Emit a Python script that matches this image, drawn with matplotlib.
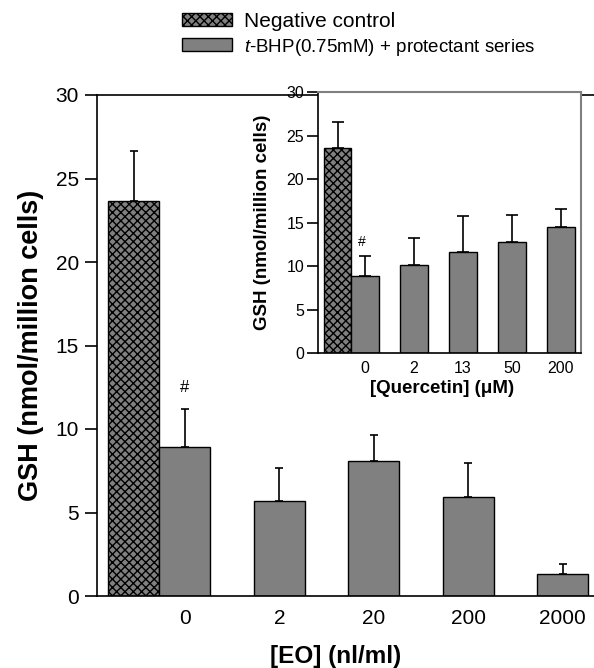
import numpy as np
import matplotlib
matplotlib.use("Agg")
import matplotlib.pyplot as plt
from matplotlib.patches import Patch

plt.rcParams['font.family'] = ['Liberation Sans', 'DejaVu Sans']
plt.rcParams['mathtext.fontset'] = 'custom'
plt.rcParams['mathtext.it'] = 'Liberation Sans:italic'
plt.rcParams['mathtext.rm'] = 'Liberation Sans'
plt.rcParams['hatch.linewidth'] = 1.0

# Datos - grafico principal (EO)
eo_labels = ['0', '2', '20', '200', '2000']
eo_vals = [8.92, 5.69, 8.08, 5.93, 1.32]
eo_err = [2.3, 2.0, 1.55, 2.05, 0.6]
ctrl_val = 23.65
ctrl_err = 3.0

# Datos - inserto (quercetina)
q_labels = ['0', '2', '13', '50', '200']
q_vals = [8.85, 10.1, 11.6, 12.75, 14.5]
q_err = [2.3, 3.15, 4.15, 3.1, 2.05]
q_ctrl_val = 23.6
q_ctrl_err = 3.0

gray = '#808080'
hatch = 'xxxx'

fig = plt.figure(figsize=(5.94, 6.68), dpi=100)
ax = fig.add_axes([97/594, 1 - 596/668, 497/594, 501/668])

# Grafico principal
w = 0.54
x = np.arange(len(eo_vals))
ax.bar(-w, ctrl_val, w, color=gray, edgecolor='black', hatch=hatch, linewidth=1)
ax.bar(x, eo_vals, w, color=gray, edgecolor='black', linewidth=1)
ax.errorbar(-w, ctrl_val, yerr=[[0], [ctrl_err]], fmt='none', ecolor='black',
            elinewidth=1.2, capsize=3, capthick=1.2, zorder=0.5)
ax.errorbar(x, eo_vals, yerr=[np.zeros(len(eo_err)), eo_err], fmt='none', ecolor='black',
            elinewidth=1.2, capsize=3, capthick=1.2, zorder=0.5)
ax.text(x[0], eo_vals[0] + eo_err[0] + 0.8, '#', ha='center', va='bottom', fontsize=12)

ax.set_xlim(-0.93, 4.33)
ax.set_ylim(0, 30)
ax.set_yticks(range(0, 31, 5))
ax.set_xticks(x)
ax.set_xticklabels(eo_labels)
ax.tick_params(axis='y', direction='out', length=9, width=1.2, labelsize=15, pad=4)
ax.tick_params(axis='x', length=0, labelsize=15, pad=9)
ax.spines['right'].set_visible(False)
for s in ['left', 'bottom', 'top']:
    ax.spines[s].set_linewidth(1.2)
ax.set_xlabel('[EO] (nl/ml)', fontsize=17.5, fontweight='bold')
ax.set_ylabel('GSH (nmol/million cells)', fontsize=19.5, fontweight='bold')
ax.xaxis.set_label_coords(0.48, -0.098)
ax.yaxis.set_label_coords(-0.107, 0.5)

# Inserto
axi = fig.add_axes([318/594, 1 - 353/668, 263/594, 261/668])
axi.set_facecolor('white')
axi.set_zorder(3)
wi = 0.56
xi = np.arange(len(q_vals))
axi.bar(-wi, q_ctrl_val, wi, color=gray, edgecolor='black', hatch=hatch, linewidth=1)
axi.bar(xi, q_vals, wi, color=gray, edgecolor='black', linewidth=1)
axi.errorbar(-wi, q_ctrl_val, yerr=[[0], [q_ctrl_err]], fmt='none', ecolor='black',
             elinewidth=1.2, capsize=4.5, capthick=1.2, zorder=0.5)
axi.errorbar(xi, q_vals, yerr=[np.zeros(len(q_err)), q_err], fmt='none', ecolor='black',
             elinewidth=1.2, capsize=4.5, capthick=1.2, zorder=0.5)
axi.text(xi[0] - 0.06, q_vals[0] + q_err[0] + 0.8, '#', ha='center', va='bottom', fontsize=10)

axi.set_xlim(-0.96, 4.41)
axi.set_ylim(0, 30)
axi.set_yticks(range(0, 31, 5))
axi.set_xticks(xi)
axi.set_xticklabels(q_labels)
axi.tick_params(axis='y', direction='out', length=8, width=1.2, labelsize=11.5, pad=2)
axi.tick_params(axis='x', length=0, labelsize=11.5, pad=6)
axi.spines['left'].set_linewidth(1.2)
axi.spines['bottom'].set_linewidth(1.2)
axi.spines['top'].set_color(gray)
axi.spines['right'].set_color(gray)
axi.spines['top'].set_linewidth(1.5)
axi.spines['right'].set_linewidth(1.5)
axi.set_xlabel('[Quercetin] (\u03bcM)', fontsize=13.5, fontweight='bold')
axi.set_ylabel('GSH (nmol/million cells)', fontsize=13.5, fontweight='bold')
axi.xaxis.set_label_coords(0.47, -0.103)
axi.yaxis.set_label_coords(-0.179, 0.5)

# Leyenda
handles = [Patch(facecolor=gray, edgecolor='black', hatch=hatch, linewidth=1),
           Patch(facecolor=gray, edgecolor='black', linewidth=1)]
labels = ['Negative control', '$t$-BHP(0.75mM) + protectant series']
leg = fig.legend(handles, labels, loc='center left', bbox_to_anchor=(182/594, 1 - 35/668),
                 frameon=False, fontsize=15, handlelength=2.4, handleheight=0.58,
                 handletextpad=0.6, borderpad=0, borderaxespad=0, labelspacing=0.3)
leg.get_texts()[1].set_fontsize(13.5)

fig.savefig('out.png', dpi=100)
